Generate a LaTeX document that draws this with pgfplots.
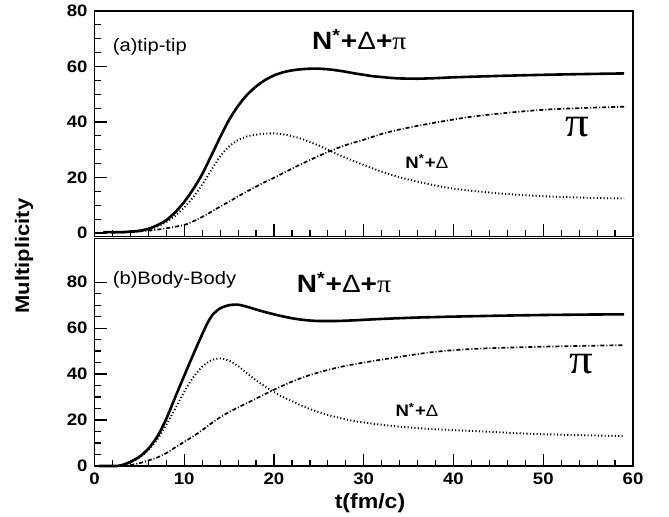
\documentclass[border=0pt]{standalone}
\usepackage{pgfplots}
\pgfplotsset{compat=1.18}
\usepackage{fontspec}
\setmainfont[FakeStretch=1.12]{Liberation Sans}
\newfontfamily\grk[FakeStretch=1.12]{Liberation Serif}

\tikzset{
  total/.style={line width=1.3pt},
  ndel/.style={line width=0.95pt, dash pattern=on 0.55pt off 1.15pt},
  pion/.style={line width=0.85pt, dash pattern=on 2pt off 1pt on 0.5pt off 1pt},
}
\newcommand\biglab{{\fontsize{12.5}{13}\selectfont\bfseries N\textsuperscript{*}+{\mdseries Δ}+{\mdseries\grk π}}}
\newcommand\smalllab{{\fontsize{8.3}{9}\selectfont\bfseries N\textsuperscript{*}+{\mdseries Δ}}}

\pgfplotsset{rootax/.style={
  scale only axis, width=269.25pt,
  xmin=0, xmax=60, clip=false,
  tick align=inside, xtick pos=bottom, ytick pos=left,
  xtick={0,10,...,60}, minor x tick num=4,
  ytick={0,20,...,80}, minor y tick num=3,
  major tick length=6pt, minor tick length=3pt,
  axis line style={line width=0.7pt},
  every tick/.append style={black, line width=0.6pt},
  ticklabel style={font=\fontsize{8.3}{9}\selectfont\bfseries},
  /pgf/number format/assume math mode=true,
}}

\begin{document}
\begin{tikzpicture}
\path[use as bounding box] (0,0) rectangle (334.5pt,258.5pt);

% (a) tip-tip
\begin{axis}[rootax, at={(47.25pt,140.25pt)}, anchor=south west,
  height=112.75pt, ymin=-1.26, ymax=80, xticklabels={}]
\addplot[total, smooth, tension=0.4] coordinates {
 (1,0.3) (3,0.3) (4,0.5) (5,0.8) (6,1.5) (7,2.8) (8,4.6) (9,7.5) (10,11.2)
 (11,15.8) (12,21.2) (13,27.8) (14,34.5) (15,40.8) (16,45.8) (17,49.8)
 (18,52.8) (19,55.1) (20,56.8) (21,57.9) (22,58.6) (23,59) (24,59.2)
 (25,59.2) (26,59) (27,58.6) (28,58.1) (29,57.5) (30,57) (31,56.5)
 (32,56.2) (33,55.9) (34,55.7) (36,55.6) (38,55.8) (40,56.1) (45,56.6)
 (50,57) (55,57.3) (59,57.5)};
\addplot[ndel, smooth, tension=0.4] coordinates {
 (1,0.2) (3,0.2) (4,0.4) (5,0.6) (6,1.2) (7,2.3) (8,3.9) (9,6.2) (10,9.2)
 (11,12.9) (12,17.4) (13,22.6) (14,27.6) (15,31.2) (16,33.5) (17,34.8)
 (18,35.4) (19,35.8) (20,35.9) (21,35.6) (22,34.9) (23,34) (24,32.8)
 (25,31.5) (26,30) (27,28.5) (28,27.1) (29,25.8) (30,24.5) (32,22.1)
 (34,20.1) (36,18.5) (38,17.1) (40,16) (42,15.2) (45,14.3) (48,13.6)
 (51,13.1) (55,12.7) (59,12.4)};
\addplot[pion, smooth, tension=0.4] coordinates {
 (2,0.1) (4,0.3) (5.5,0.7) (6.5,1) (8,1.7) (10,2.9) (11,4.2) (12,5.8)
 (13,7.6) (14,9.5) (15,11.3) (16,13.2) (17,15) (18,16.7) (19,18.4)
 (20,19.9) (22,23.2) (24,26.3) (26,29.2) (28,31.7) (30,33.6) (32,35.7)
 (34,37.3) (36,38.6) (38,39.8) (40,40.9) (42,41.9) (45,43) (48,43.9)
 (51,44.6) (55,45.1) (59,45.5)};
\node[anchor=west, inner sep=0pt, font=\fontsize{9}{10}\selectfont] at (axis cs:2,67) {(a)tip-tip};
\node[anchor=base west, inner sep=0pt] at (axis cs:24.2,66) {\biglab};
\node[inner sep=0pt, font=\grk\fontsize{21}{21}\selectfont] at (axis cs:53.8,38) {π};
\node[anchor=base west, inner sep=0pt] at (axis cs:34.6,23.3) {\smalllab};
\end{axis}

% (b) Body-Body
\begin{axis}[rootax, at={(47.25pt,25.5pt)}, anchor=south west,
  height=113.75pt, ymin=0, ymax=99]
\addplot[total, smooth, tension=0.4] coordinates {
 (0.5,0) (2.5,0) (3,0.3) (4,1.8) (5,4) (6,7.5) (7,12.8) (8,20.5) (9,30)
 (10,39.3) (11,48.5) (12,57.3) (12.6,62.3) (13.2,66) (14,68.6) (15,70)
 (16,70.2) (17,69.3) (18,68.1) (19,67) (20,66) (21,65.1) (22,64.3)
 (23,63.7) (24,63.3) (25,63.1) (27,63.1) (29,63.4) (32,64) (36,64.6)
 (40,65) (45,65.4) (50,65.7) (55,65.9) (59,66)};
\addplot[ndel, smooth, tension=0.4] coordinates {
 (0.5,0) (2.5,0) (3,0.2) (4,1.5) (5,3.6) (6,7) (7,11.5) (8,18) (9,25)
 (10,32.3) (11,38.6) (12,43.2) (13,46) (14,46.8) (15,45.8) (16,43.5)
 (17,40.3) (18,37.3) (19,34.6) (20,32.2) (21,30) (22,28.2) (23,26.4)
 (24,24.8) (25,23.4) (26,22.2) (27,21.2) (28,20.3) (29,19.5) (31,18.4)
 (34,17.1) (37,16.2) (40,15.6) (44,14.9) (48,14.1) (53,13.5) (59,13)};
\addplot[pion, smooth, tension=0.4] coordinates {
 (3,0) (4,0.4) (5,1.2) (6,2.4) (7,3.7) (8,5.6) (9,8.1) (10,10.5) (11,12.9)
 (12,15.6) (13,18.5) (14,21.2) (15,23.5) (16,25.5) (17,27.4) (18,29.3)
 (19,31.3) (20,33.2) (22,36.7) (24,39.6) (26,41.8) (28,43.6) (30,45)
 (32,46.3) (34,47.5) (36,48.7) (38,49.7) (40,50.4) (43,51.1) (47,51.6)
 (51,52) (55,52.3) (59,52.6)};
\node[anchor=west, inner sep=0pt, font=\fontsize{9}{10}\selectfont] at (axis cs:2,80.9) {(b)Body-Body};
\node[anchor=base west, inner sep=0pt] at (axis cs:22.5,75.3) {\biglab};
\node[inner sep=0pt, font=\grk\fontsize{21}{21}\selectfont] at (axis cs:54.2,44.3) {π};
\node[anchor=base west, inner sep=0pt] at (axis cs:33.5,21.4) {\smalllab};
\end{axis}

\node[font=\fontsize{10.3}{11}\selectfont\bfseries] at (185pt,7pt) {t(fm/c)};
\node[rotate=90, font=\fontsize{9.8}{11}\selectfont\bfseries] at (12pt,130.5pt) {Multiplicity};
\end{tikzpicture}
\end{document}
